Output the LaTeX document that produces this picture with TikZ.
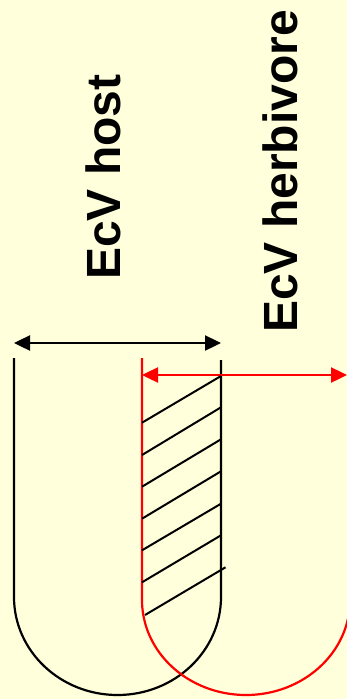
\documentclass[tikz,border=0pt]{standalone}
\usepackage{fontspec}
\newfontfamily\labfont{Liberation Sans}
\usetikzlibrary{arrows.meta}
\definecolor{bgyellow}{RGB}{255,255,220}
\definecolor{myred}{RGB}{255,0,0}
\begin{document}
\begin{tikzpicture}[x=1pt,y=-1pt,
  lab/.style={font=\labfont\bfseries\fontsize{48}{48}\selectfont, inner sep=0pt, rotate=90, anchor=base west},
  blk/.style={draw=black, line width=2.2pt},
  rd/.style={draw=myred, line width=2.2pt},
  dim/.style={line width=2.4pt, {Triangle[length=16pt,width=15pt]}-{Triangle[length=16pt,width=15pt]}},
  hatch/.style={draw=black, line width=2pt}]
\fill[bgyellow] (0,0) rectangle (347,699);
\useasboundingbox (0,0) rectangle (347,699);
\clip (0,0) rectangle (347,699);
% labels
\node[lab] (host) at (120,280) {EcV host};
\node[lab] (herb) at (297,333) {EcV herbivore};
% host U
\coordinate (hl) at (14,358);
\coordinate (hr) at (221,360);
\draw[blk] (hl) -- (14,597) arc[start angle=180,end angle=0,x radius=103.5,y radius=98] -- (hr);
% herbivore U
\coordinate (rl) at (142,358);
\draw[rd] (rl) -- (142,600) arc[start angle=180,end angle=0,x radius=104,y radius=95] -- (350,358);
% dimension arrows
\coordinate (ha) at (14,343);
\coordinate (hb) at (221,343);
\draw[dim, draw=black, fill=black] (ha) -- (hb);
\coordinate (ra) at (142,375);
\coordinate (rb) at (347,375);
\draw[dim, draw=myred, fill=myred] (ra) -- (rb);
% hatching
\foreach \l/\r in {422.7/376, 455/407.3, 486.7/439.3, 518.7/471.3, 550.3/503.7, 582.3/535.3}
  \draw[hatch] (142,\l) -- (221,\r);
\draw[hatch] (145,615) -- (225.5,567.3);
\end{tikzpicture}
\end{document}
